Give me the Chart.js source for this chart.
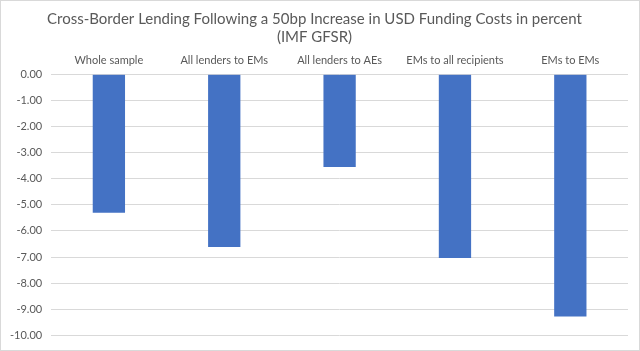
<!DOCTYPE html>
<html><head><meta charset="utf-8">
<script src="https://cdn.jsdelivr.net/npm/chart.js@4/dist/chart.umd.min.js"></script>
<style>
html,body{margin:0;padding:0;background:#fff;}
#c{position:absolute;left:0;top:0;}
#frame{position:absolute;left:0;top:0;width:638px;height:349px;border:1px solid #d9d9d9;pointer-events:none;}
</style></head>
<body><canvas id="c" width="640" height="351"></canvas><div id="frame"></div>
<script>
const categories = ["Whole sample","All lenders to EMs","All lenders to AEs","EMs to all recipients","EMs to EMs"];
const values = [-5.30, -6.62, -3.55, -7.04, -9.28];
const titleLines = ["Cross-Border Lending Following a 50bp Increase in USD Funding Costs in percent","(IMF GFSR)"];
const yMin = -10, yMax = 0, yStep = 1;

const FONT = "Lato, 'Open Sans', sans-serif";
new Chart(document.getElementById('c'), {
  type: 'bar',
  data: { labels: categories, datasets: [{ data: values, backgroundColor: '#4472c4', borderColor:'#4472c4', borderWidth:0, categoryPercentage: 1.0, barPercentage: 0.28 }] },
  options: {
    responsive: false, animation: false,
    layout: { padding: { left: 1, right: 12, top: 2, bottom: -3 } },
    plugins: {
      legend: { display: false },
      tooltip: { enabled: false },
      title: { display: true, text: titleLines, color: '#595959', font: { family: FONT, size: 15, weight: 'normal' }, padding: { top: 8, bottom: 1 }, lineHeight: 1.35 }
    },
    scales: {
      x: { position: 'top', grid: { display: false, drawTicks: false }, border: { display: false },
           ticks: { color: '#595959', font: { family: FONT, size: 11 }, padding: 7, maxRotation: 0 } },
      y: { min: yMin, max: yMax, grid: { color: '#d9d9d9', drawTicks: false }, border: { display: false },
           ticks: { stepSize: yStep, color: '#595959', font: { family: FONT, size: 11 }, padding: 9, callback: v => v.toFixed(2) } }
    }
  }
});
</script></body></html>
